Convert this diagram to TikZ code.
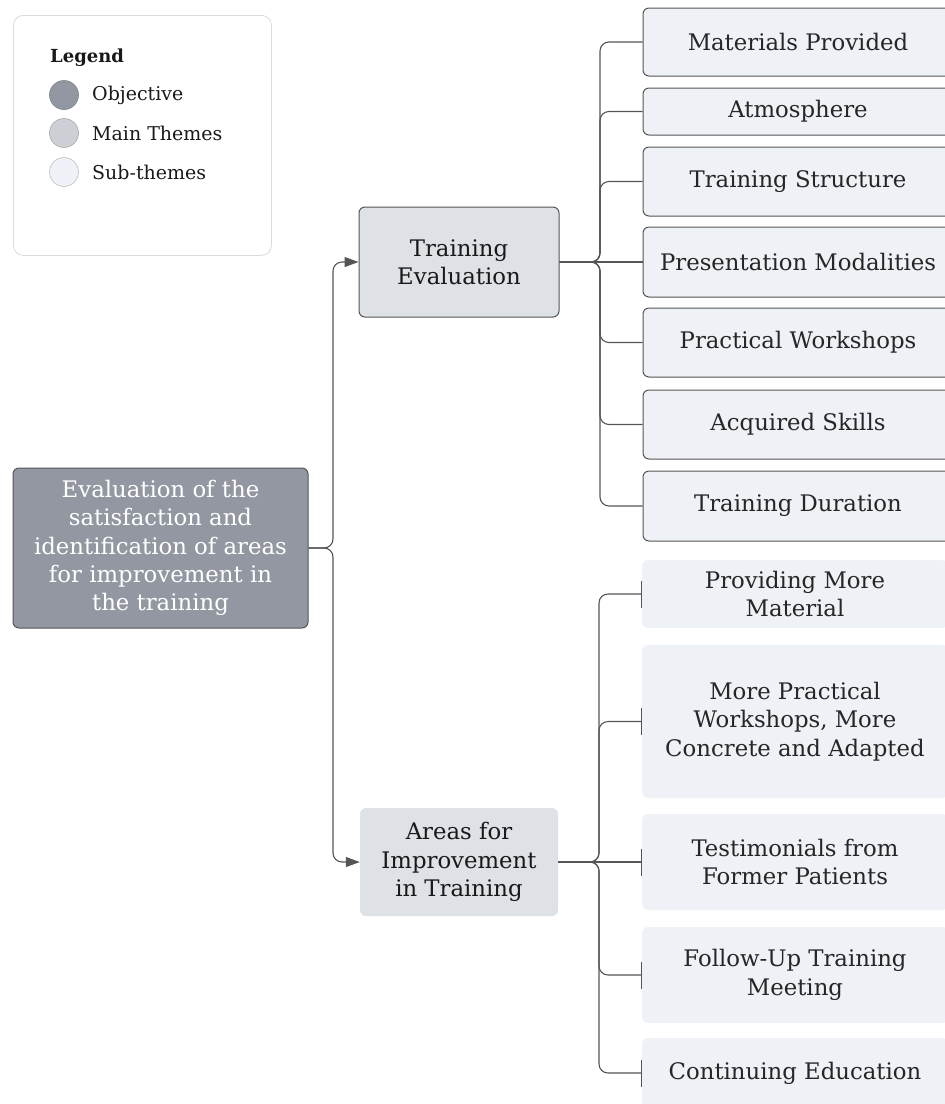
\documentclass[tikz,border=0pt]{standalone}
\usepackage{fontspec}
\setmainfont{DejaVu Serif}
\usetikzlibrary{arrows.meta}
\definecolor{objfill}{HTML}{9297A2}
\definecolor{mainfill}{HTML}{DEE1E6}
\definecolor{subfill}{HTML}{EEF1F5}
\definecolor{edge}{HTML}{555555}
\definecolor{txt}{HTML}{262626}
\definecolor{legedge}{HTML}{DADADA}
\tikzset{
  base/.style={rounded corners=6pt, align=center, inner sep=0pt, font=\fontsize{22.8}{28.3}\selectfont},
  objbox/.style={base, fill=objfill, draw=edge, line width=1pt, text=white},
  mainbox/.style={base, fill=mainfill, text=black!90},
  mainboxb/.style={mainbox, draw=edge, line width=1pt},
  subbox/.style={base, fill=subfill, text=txt},
  subboxb/.style={subbox, draw=edge, line width=1pt},
  conn/.style={draw=edge, line width=1.1pt, rounded corners=9pt},
  arr/.style={conn, -{Triangle[length=14pt,width=10pt]}},
  tick/.style={conn, -{Bar[width=27pt]}},
  legtext/.style={anchor=west, inner sep=0pt, text=black!90, font=\fontsize{19}{22}\selectfont},
}
\begin{document}
\begin{tikzpicture}[x=1pt,y=-1pt]
\useasboundingbox (0,0) rectangle (945,1104);
% legend
\node[draw=legedge, line width=0.8pt, rounded corners=10pt, minimum width=258pt, minimum height=240pt, anchor=north west] (legend) at (13,15) {};
\node[legtext, font=\fontsize{18}{22}\selectfont\bfseries] (legtitle) at (50,58) {Legend};
\node[circle, fill=objfill, draw=objfill!85!black, line width=0.6pt, minimum size=29pt, inner sep=0pt] (c1) at (64,95) {};
\node[circle, fill=mainfill!92!black, draw=mainfill!75!black, line width=0.6pt, minimum size=29pt, inner sep=0pt] (c2) at (64,133) {};
\node[circle, fill=subfill, draw=subfill!80!black, line width=0.6pt, minimum size=29pt, inner sep=0pt] (c3) at (64,172) {};
\node[legtext] (l1) at (92,95) {Objective};
\node[legtext] (l2) at (92,133) {Main Themes};
\node[legtext] (l3) at (92,172) {Sub-themes};
% objective
\node[objbox, minimum width=295pt, minimum height=160pt] (obj) at (160.5,548) {Evaluation of the\\satisfaction and\\identification of areas\\for improvement in\\the training};
% main themes
\node[mainboxb, minimum width=200pt, minimum height=110pt] (te) at (459,262) {Training\\Evaluation};
\node[mainbox, minimum width=198pt, minimum height=108pt] (ai) at (459,862) {Areas for\\Improvement\\in Training};
% upper sub-themes
\node[subboxb, minimum width=310pt, minimum height=68pt] (s1) at (798,42) {Materials Provided};
\node[subboxb, minimum width=310pt, minimum height=47pt] (s2) at (798,111.5) {Atmosphere};
\node[subboxb, minimum width=310pt, minimum height=69pt] (s3) at (798,181.5) {Training Structure};
\node[subboxb, minimum width=310pt, minimum height=70pt] (s4) at (798,262) {Presentation Modalities};
\node[subboxb, minimum width=310pt, minimum height=69pt] (s5) at (798,342.5) {Practical Workshops};
\node[subboxb, minimum width=310pt, minimum height=69pt] (s6) at (798,424.5) {Acquired Skills};
\node[subboxb, minimum width=310pt, minimum height=70pt] (s7) at (798,506) {Training Duration};
% lower sub-themes
\node[subbox, minimum width=306pt, minimum height=68pt] (u1) at (795,594) {Providing More\\Material};
\node[subbox, minimum width=306pt, minimum height=153pt] (u2) at (795,721.5) {More Practical\\Workshops, More\\Concrete and Adapted};
\node[subbox, minimum width=306pt, minimum height=96pt] (u3) at (795,862) {Testimonials from\\Former Patients};
\node[subbox, minimum width=306pt, minimum height=96pt] (u4) at (795,975) {Follow-Up Training\\Meeting};
\node[subbox, minimum width=306pt, minimum height=70pt] (u5) at (795,1073) {Continuing Education};
% trunk coordinates
\coordinate (t0) at (333,548);
\coordinate (t1) at (600,262);
\coordinate (t2) at (599,862);
% objective connectors
\draw[arr] (obj.east) -- (t0) |- (te.west);
\draw[arr] (obj.east) -- (t0) |- (ai.west);
% upper connectors
\draw[conn] (te.east) -- (t1) |- (s1.west);
\draw[conn] (te.east) -- (t1) |- (s2.west);
\draw[conn] (te.east) -- (t1) |- (s3.west);
\draw[conn] (te.east) -- (s4.west);
\draw[conn] (te.east) -- (t1) |- (s5.west);
\draw[conn] (te.east) -- (t1) |- (s6.west);
\draw[conn] (te.east) -- (t1) |- (s7.west);
% lower connectors
\draw[tick] (ai.east) -- (t2) |- (u1.west);
\draw[tick] (ai.east) -- (t2) |- (u2.west);
\draw[tick] (ai.east) -- (u3.west);
\draw[tick] (ai.east) -- (t2) |- (u4.west);
\draw[tick] (ai.east) -- (t2) |- (u5.west);
\end{tikzpicture}
\end{document}
